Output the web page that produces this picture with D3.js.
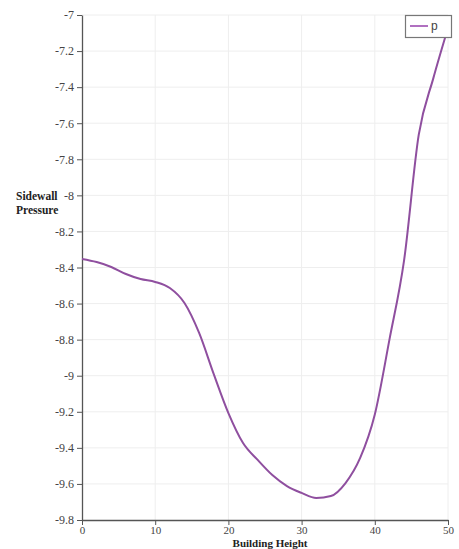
<!DOCTYPE html>
<html><head><meta charset="utf-8">
<script src="https://cdn.jsdelivr.net/npm/d3@7"></script>
<style>body{margin:0;background:#fff}svg{display:block}</style>
</head><body>
<svg id="c" width="459" height="549"></svg>
<script>
const heights = [0,2,4,6,8,10,12,14,16,18,20,22,24,26,28,30,32,34,36,38,40,42,44,46,48,50];
const pressure = [-8.353,-8.370,-8.397,-8.436,-8.464,-8.480,-8.514,-8.597,-8.763,-8.991,-9.207,-9.373,-9.467,-9.551,-9.612,-9.650,-9.678,-9.667,-9.595,-9.456,-9.215,-8.800,-8.360,-7.665,-7.350,-7.072];
const xTicks = [0,10,20,30,40,50];
const yTicks = [-7,-7.2,-7.4,-7.6,-7.8,-8,-8.2,-8.4,-8.6,-8.8,-9,-9.2,-9.4,-9.6,-9.8];
const seriesName = "p";
const xTitle = "Building Height";
const yTitle = ["Sidewall", "Pressure"];

const svg = d3.select("#c");
const L = 82, R = 448, T = 15, B = 520;
const x = d3.scaleLinear().domain([0,50]).range([L,R]);
const y = d3.scaleLinear().domain([-9.8,-7]).range([B,T]);
const font = "'Liberation Serif','DejaVu Serif',serif";

// grid
svg.append("g").selectAll("line.h").data(yTicks.slice(0,-1)).join("line")
  .attr("x1",L).attr("x2",R).attr("y1",d=>y(d)).attr("y2",d=>y(d))
  .attr("stroke","#eeeeee").attr("stroke-width",1);
svg.append("g").selectAll("line.v").data(xTicks.slice(1)).join("line")
  .attr("x1",d=>x(d)).attr("x2",d=>x(d)).attr("y1",T).attr("y2",B)
  .attr("stroke","#eeeeee").attr("stroke-width",1);

// axes
const xa = svg.append("g").attr("transform",`translate(0,${B})`)
  .call(d3.axisBottom(x).tickValues(xTicks).tickSize(5).tickPadding(2).tickSizeOuter(0).tickFormat(d3.format("d")));
const ya = svg.append("g").attr("transform",`translate(${L},0)`)
  .call(d3.axisLeft(y).tickValues(yTicks).tickSize(5).tickSizeOuter(0).tickFormat(d=>String(+d.toFixed(1))));
[xa,ya].forEach(a=>{
  a.attr("font-family",font).attr("font-size",12);
  a.select(".domain").attr("stroke","#555").attr("stroke-width",1.3);
  a.selectAll(".tick line").attr("stroke","#555");
  a.selectAll("text").attr("fill","#444");
});
xa.attr("font-size",11);
xa.selectAll("text").attr("dy","0.6em");

// line
svg.append("path").datum(heights.map((h,i)=>[h,pressure[i]]))
  .attr("fill","none").attr("stroke","#8f4f9f").attr("stroke-width",2)
  .attr("d", d3.line().x(d=>x(d[0])).y(d=>y(d[1])).curve(d3.curveMonotoneX));

// titles
svg.append("text").attr("x",270).attr("y",547).attr("text-anchor","middle")
  .attr("font-family",font).attr("font-size",11).attr("font-weight","bold").attr("fill","#222").text(xTitle);
svg.append("text").attr("font-family",font).attr("font-size",11.5).attr("font-weight","bold").attr("fill","#222")
  .selectAll("tspan").data(yTitle).join("tspan").attr("x",16).attr("y",(d,i)=>200+i*14).text(d=>d);

// legend
const lg = svg.append("g");
lg.append("rect").attr("x",405.5).attr("y",15.5).attr("width",46).attr("height",22)
  .attr("fill","#fff").attr("stroke","#777").attr("stroke-width",1.2);
lg.append("line").attr("x1",410).attr("x2",428).attr("y1",26).attr("y2",26)
  .attr("stroke","#b070c0").attr("stroke-width",2);
lg.append("text").attr("x",431).attr("y",30).attr("font-family","'Liberation Sans',Arial,sans-serif")
  .attr("font-size",12).attr("fill","#444").text(seriesName);
</script>
</body></html>
